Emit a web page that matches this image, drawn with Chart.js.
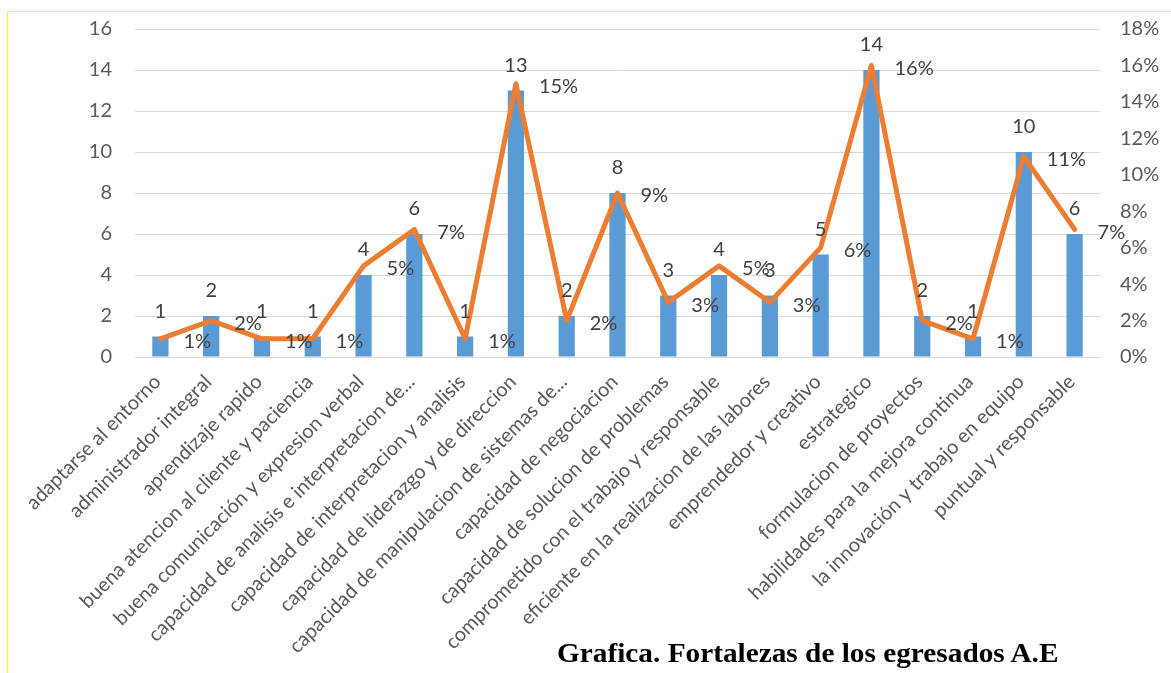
<!DOCTYPE html>
<html lang="es">
<head>
<meta charset="UTF-8">
<title>Fortalezas de los egresados A.E</title>
<script src="https://cdn.jsdelivr.net/npm/chart.js"></script>
<style>
  body { margin: 0; background: #fff; }
  #wrap { position: relative; width: 1171px; height: 673px; overflow: hidden; }
  #marco { position: absolute; left: 7px; top: 11px; width: 1170px; height: 670px; border-left: 1px solid #ffff00; border-top: 1px solid #ffff00; }
  #grafica { position: absolute; left: 0; top: 0; }
  #titulo { position: absolute; left: 557px; top: 638px; font: bold 27px "Liberation Serif", "Times New Roman", serif; color: #000; white-space: nowrap; transform: scaleX(1.085); transform-origin: left top; }
</style>
</head>
<body>
<div id="wrap">
  <div id="marco"></div>
  <canvas id="grafica" width="1171" height="673"></canvas>
  <div id="titulo">Grafica. Fortalezas de los egresados A.E</div>
</div>
<script>
// fortalezas y resultados
const fortalezas = [
  'adaptarse al entorno',
  'administrador integral',
  'aprendizaje rapido',
  'buena atencion al cliente y paciencia',
  'buena comunicación y expresion verbal',
  'capacidad de analisis e interpretacion de...',
  'capacidad de interpretacion y analisis',
  'capacidad de liderazgo y de direccion',
  'capacidad de manipulacion de sistemas de...',
  'capacidad de negociacion',
  'capacidad de solucion de problemas',
  'comprometido con el trabajo y responsable',
  'eficiente en la realizacion de las labores',
  'emprendedor y creativo',
  'estrategico',
  'formulacion de proyectos',
  'habilidades para la mejora continua',
  'la innovación y trabajo en equipo',
  'puntual y responsable'
];
const cantidades = [1, 2, 1, 1, 4, 6, 1, 13, 2, 8, 3, 4, 3, 5, 14, 2, 1, 10, 6];
const porcentajes = [1, 2, 1, 1, 5, 7, 1, 15, 2, 9, 3, 5, 3, 6, 16, 2, 1, 11, 7];

const fuente = 'Lato';

// etiquetas de valor: cantidad sobre la barra, porcentaje a la derecha del punto
const etiquetas = {
  id: 'etiquetas',
  afterDatasetsDraw(chart) {
    const ctx = chart.ctx;
    ctx.save();
    ctx.font = '20px ' + fuente;
    ctx.fillStyle = '#404040';
    ctx.textBaseline = 'middle';
    ctx.textAlign = 'center';
    chart.getDatasetMeta(0).data.forEach((barra, i) => {
      ctx.fillText(String(cantidades[i]), barra.x, barra.y - 25);
    });
    ctx.textAlign = 'left';
    chart.getDatasetMeta(1).data.forEach((punto, i) => {
      ctx.fillText(porcentajes[i] + '%', punto.x + 23, punto.y + 3);
    });
    ctx.restore();
  }
};

// ancho fijo del eje vertical, sin reservar espacio extra arriba/abajo
function ejeFijo(ancho) {
  return s => {
    s.width = ancho;
    s.paddingTop = 0;
    s.paddingBottom = 0;
  };
}

function dibujar() {
  new Chart(document.getElementById('grafica'), {
    type: 'bar',
    data: {
      labels: fortalezas,
      datasets: [{
        type: 'bar',
        data: cantidades,
        backgroundColor: '#5b9bd5',
        categoryPercentage: 1,
        barPercentage: 0.32,
        yAxisID: 'y',
        order: 2
      }, {
        type: 'line',
        data: porcentajes,
        borderColor: '#ed7d31',
        borderWidth: 5,
        borderJoinStyle: 'round',
        borderCapStyle: 'round',
        pointRadius: 0,
        tension: 0,
        yAxisID: 'y1',
        order: 1
      }]
    },
    options: {
      responsive: false,
      animation: false,
      layout: { padding: { top: 29, left: 0, right: 0, bottom: 0 } },
      plugins: { legend: { display: false }, tooltip: { enabled: false } },
      scales: {
        x: {
          grid: { display: false, drawTicks: false },
          border: { color: '#d9d9d9' },
          ticks: {
            autoSkip: false, minRotation: 45, maxRotation: 45,
            color: '#595959', font: { family: fuente, size: 20 }, padding: 13, labelOffset: -3
          },
          afterFit(s) { s.height = 316; }
        },
        y: {
          position: 'left', min: 0, max: 16,
          grid: { color: '#d9d9d9', drawTicks: false },
          border: { display: false },
          ticks: { stepSize: 2, color: '#595959', font: { family: fuente, size: 20 }, padding: 23 },
          afterFit: ejeFijo(135)
        },
        y1: {
          position: 'right', min: 0, max: 18,
          grid: { display: false, drawTicks: false },
          border: { display: false },
          ticks: { stepSize: 2, color: '#595959', font: { family: fuente, size: 20 }, padding: 20,
            callback: v => v + '%' },
          afterFit: ejeFijo(71)
        }
      }
    },
    plugins: [etiquetas]
  });
}

document.fonts.load('20px ' + fuente).then(dibujar, dibujar);
</script>
</body>
</html>
